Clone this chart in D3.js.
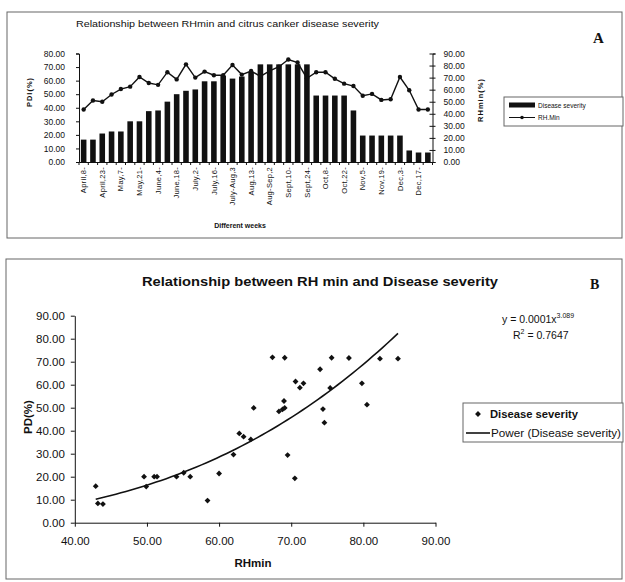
<!DOCTYPE html>
<html><head><meta charset="utf-8">
<script src="https://cdn.jsdelivr.net/npm/d3@7"></script>
<style>
body{margin:0;background:#fff}
svg{display:block}
text{font-family:"Liberation Sans",Arial,sans-serif;fill:#111}
</style>
</head><body>
<svg id="c" width="625" height="582"></svg>
<script>
// ---------- Panel A data ----------
const weekTickLabels = ["April,8-","April,23-","May,7-","May,21-","June,4-","June,18-","July,2-","July,16-","July-Aug,3","Aug,13-","Aug-Sep,2","Sept,10-","Sept,24-","Oct,8-","Oct,22-","Nov,5-","Nov,19-","Dec,3-","Dec,17-"];
const diseaseSeverity = [16.5,16.5,21,22.5,22.5,30,30,37.5,38,44.5,50,52.5,53.5,59.5,59.5,63.5,61.5,63,66.5,72,72,72,72,72,72,49,49,49,49,38,19.5,19.5,19.5,19.5,19.5,8.5,7,7];
const rhMinWeekly = [43.5,51,50,56,60.5,62.5,70.5,65.5,64,74.5,68.5,81,70,75,72,72,80.5,72.5,75.5,71,75.5,79,85,82.5,69.5,74.5,74.5,69,65,63,55,56.5,51.5,52,70.5,59.5,43.5,43.5];
const pdiTicks = [0,10,20,30,40,50,60,70,80];
const rhTicks = [0,10,20,30,40,50,60,70,80,90];

// ---------- Panel B data ----------
const scatterRH = [42.9,43.2,43.9,49.6,49.9,51,51.4,54.1,55.1,56,58.4,60,62,62.8,63.4,64.4,64.8,67.4,68.3,68.8,69,69.1,69.1,69.5,70.5,70.6,71.2,71.7,74,74.4,74.6,75.4,75.6,78,79.8,80.5,82.3,84.8];
const scatterPD = [15.9,8.4,8.1,20,15.7,20,20,20,21.7,20,9.6,21.4,29.6,38.8,37.4,36.2,49.9,71.9,48.4,49.3,52.9,49.9,71.7,29.4,19.3,61.4,58.7,60.6,66.7,49.4,43.5,58.6,71.7,71.6,60.6,51.3,71.3,71.3];
const pdTicksB = [0,10,20,30,40,50,60,70,80,90];
const rhTicksB = [40,50,60,70,80,90];

const svg = d3.select("#c");
const ink = "#111";
const diamond = d3.symbol().type(d3.symbolSquare).size(17);

// ================= PANEL A =================
svg.append("rect").attr("x",7).attr("y",12).attr("width",615).attr("height",226)
  .attr("fill","none").attr("stroke","#666").attr("stroke-width",1);

const A = {l:79, r:432.5, t:53.5, b:162};
const xA = d3.scaleBand().domain(d3.range(diseaseSeverity.length))
  .range([A.l, A.r]).paddingInner(0.4).paddingOuter(0.2);
const yL = d3.scaleLinear().domain([0,80]).range([A.b, A.t]);
const yR = d3.scaleLinear().domain([0,90]).range([A.b, A.t]);

svg.append("text").attr("x",76).attr("y",27).attr("font-size",9.5)
  .attr("textLength",303).attr("lengthAdjust","spacingAndGlyphs")
  .text("Relationship between RHmin and citrus canker disease severity");
svg.append("text").attr("x",593).attr("y",43).attr("font-size",15).attr("font-weight","bold")
  .style("font-family","'Liberation Serif',serif").text("A");

// bars
svg.append("g").selectAll("rect").data(diseaseSeverity).join("rect")
  .attr("x",(d,i)=>xA(i)).attr("width",xA.bandwidth())
  .attr("y",d=>yL(d)).attr("height",d=>yL(0)-yL(d)).attr("fill",ink);

// left axis
const gL = svg.append("g").attr("transform",`translate(${A.l},0)`)
  .call(d3.axisLeft(yL).tickValues(pdiTicks).tickFormat(d3.format(".2f")).tickSize(3).tickPadding(11));
gL.selectAll("text").attr("font-size",8.5).style("font-family","'Liberation Sans',Arial,sans-serif");
gL.selectAll("path,line").attr("stroke",ink);

// right axis (cross ticks)
const gR = svg.append("g").attr("transform",`translate(${A.r},0)`)
  .call(d3.axisRight(yR).tickValues(rhTicks).tickFormat(d3.format(".2f")).tickSize(3).tickPadding(8));
gR.selectAll(".tick line").attr("x1",-3);
gR.selectAll("text").attr("font-size",8.5).style("font-family","'Liberation Sans',Arial,sans-serif");
gR.selectAll("path,line").attr("stroke",ink);

// bottom axis
const tickIdx = d3.range(0, diseaseSeverity.length, 2);
const gX = svg.append("g").attr("transform",`translate(0,${A.b})`)
  .call(d3.axisBottom(xA).tickValues(tickIdx).tickFormat(i=>weekTickLabels[i/2]).tickSize(0).tickSizeOuter(0));
gX.select(".domain").attr("stroke",ink);
gX.selectAll("text").attr("font-size",7.5).attr("letter-spacing",0.3).attr("transform","rotate(-90)")
  .attr("text-anchor","end").attr("x",-5).attr("y",0).attr("dy","0.35em")
  .style("font-family","'Liberation Sans',Arial,sans-serif");
// category boundary ticks
svg.append("g").selectAll("line").data(d3.range(diseaseSeverity.length+1)).join("line")
  .attr("x1",i=>A.l+i*xA.step()).attr("x2",i=>A.l+i*xA.step())
  .attr("y1",A.b).attr("y2",A.b+3).attr("stroke",ink);

// line RH min
const lineA = d3.line().x((d,i)=>xA(i)+xA.bandwidth()/2).y(d=>yR(d));
svg.append("path").datum(rhMinWeekly).attr("d",lineA)
  .attr("fill","none").attr("stroke",ink).attr("stroke-width",1.4);
svg.append("g").selectAll("circle").data(rhMinWeekly).join("circle")
  .attr("cx",(d,i)=>xA(i)+xA.bandwidth()/2).attr("cy",d=>yR(d)).attr("r",2.2).attr("fill",ink);

// axis titles
svg.append("text").attr("transform","translate(32,92) rotate(-90)").attr("text-anchor","middle")
  .attr("font-size",7.5).attr("font-weight","bold").attr("letter-spacing",1).text("PDI(%)");
svg.append("text").attr("transform","translate(483,100) rotate(-90)").attr("text-anchor","middle")
  .attr("font-size",7.5).attr("font-weight","bold").attr("letter-spacing",1).text("RHmin(%)");
svg.append("text").attr("x",240).attr("y",228).attr("text-anchor","middle")
  .attr("font-size",7).attr("font-weight","bold").text("Different weeks");

// legend A
svg.append("rect").attr("x",504).attr("y",97).attr("width",119).attr("height",29)
  .attr("fill","#fff").attr("stroke","#666");
svg.append("rect").attr("x",509).attr("y",102.5).attr("width",26).attr("height",5).attr("fill",ink);
svg.append("text").attr("x",538).attr("y",107.5).attr("font-size",6.5).text("Disease severity");
svg.append("line").attr("x1",509).attr("x2",535).attr("y1",117.5).attr("y2",117.5).attr("stroke",ink);
svg.append("circle").attr("cx",522).attr("cy",117.5).attr("r",1.8).attr("fill",ink);
svg.append("text").attr("x",538).attr("y",119.8).attr("font-size",6.5).text("RH.Min");

// ================= PANEL B =================
svg.append("rect").attr("x",6).attr("y",259).attr("width",616).attr("height",320)
  .attr("fill","none").attr("stroke","#666").attr("stroke-width",1);

const B = {l:74.8, r:435.5, t:315.7, b:522.7};
const xB = d3.scaleLinear().domain([40,90]).range([B.l, B.r]);
const yB = d3.scaleLinear().domain([0,90]).range([B.b, B.t]);

svg.append("text").attr("x",320).attr("y",286).attr("text-anchor","middle")
  .attr("font-size",13).attr("font-weight","bold")
  .attr("textLength",356).attr("lengthAdjust","spacingAndGlyphs")
  .text("Relationship between RH min and Disease severity");
svg.append("text").attr("x",590).attr("y",289).attr("font-size",14).attr("font-weight","bold")
  .style("font-family","'Liberation Serif',serif").text("B");

const gYB = svg.append("g").attr("transform",`translate(${B.l},0)`)
  .call(d3.axisLeft(yB).tickValues(pdTicksB).tickFormat(d3.format(".2f")).tickSize(4).tickPadding(6).tickSizeOuter(0));
gYB.selectAll("text").attr("font-size",11.5).style("font-family","'Liberation Sans',Arial,sans-serif");
gYB.selectAll("path,line").attr("stroke",ink);

const gXB = svg.append("g").attr("transform",`translate(0,${B.b})`)
  .call(d3.axisBottom(xB).tickValues(rhTicksB).tickFormat(d3.format(".2f")).tickSize(4).tickPadding(10).tickSizeOuter(0));
gXB.selectAll("text").attr("font-size",11.5).style("font-family","'Liberation Sans',Arial,sans-serif");
gXB.selectAll("path,line").attr("stroke",ink);

// power trendline (least squares in log space, as Excel does)
const lx = scatterRH.map(Math.log), ly = scatterPD.map(Math.log);
const mx = d3.mean(lx), my = d3.mean(ly);
const bFit = d3.sum(lx.map((v,i)=>(v-mx)*(ly[i]-my))) / d3.sum(lx.map(v=>(v-mx)*(v-mx)));
const aFit = Math.exp(my - bFit*mx);
const [xmin,xmax] = d3.extent(scatterRH);
const curveX = d3.range(0,61).map(k=>xmin+(xmax-xmin)*k/60);
svg.append("path").datum(curveX)
  .attr("d", d3.line().x(d=>xB(d)).y(d=>yB(aFit*Math.pow(d,bFit))))
  .attr("fill","none").attr("stroke",ink).attr("stroke-width",1.6);

// points (diamonds = squares rotated 45deg)
svg.append("g").selectAll("path").data(scatterRH).join("path")
  .attr("transform",(d,i)=>`translate(${xB(d)},${yB(scatterPD[i])}) rotate(45)`)
  .attr("d", diamond).attr("fill",ink);

// axis titles
svg.append("text").attr("transform","translate(32,417) rotate(-90)").attr("text-anchor","middle")
  .attr("font-size",11.5).attr("font-weight","bold").text("PD(%)");
svg.append("text").attr("x",253).attr("y",567).attr("text-anchor","middle")
  .attr("font-size",11.5).attr("font-weight","bold").text("RHmin");

// equation
const eq = svg.append("text").attr("x",502).attr("y",323).attr("font-size",10.5);
eq.append("tspan").text("y = 0.0001x");
eq.append("tspan").attr("font-size",7).attr("dy",-5).text("3.089");
const r2 = svg.append("text").attr("x",513).attr("y",339).attr("font-size",10.5);
r2.append("tspan").text("R");
r2.append("tspan").attr("font-size",7).attr("dy",-5).text("2");
r2.append("tspan").attr("dy",5).text(" = 0.7647");

// legend B
svg.append("rect").attr("x",463).attr("y",403).attr("width",160).attr("height",39)
  .attr("fill","#fff").attr("stroke","#666");
svg.append("path").attr("transform","translate(478,414) rotate(45)")
  .attr("d", diamond).attr("fill",ink);
svg.append("text").attr("x",490).attr("y",418).attr("font-size",10.5).attr("font-weight","bold")
  .attr("textLength",88).attr("lengthAdjust","spacingAndGlyphs").text("Disease severity");
svg.append("line").attr("x1",466).attr("x2",490).attr("y1",433).attr("y2",433)
  .attr("stroke",ink).attr("stroke-width",1.6);
svg.append("text").attr("x",491).attr("y",437).attr("font-size",10.5)
  .attr("textLength",130).attr("lengthAdjust","spacingAndGlyphs").text("Power (Disease severity)");
</script>
</body></html>
